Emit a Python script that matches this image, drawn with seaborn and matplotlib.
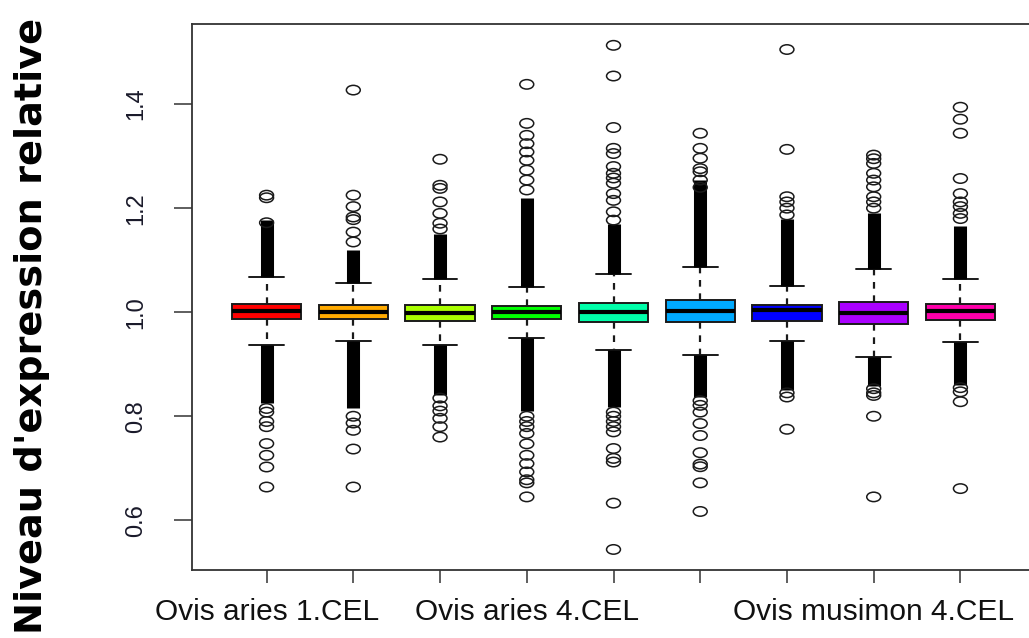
import numpy as np
import pandas as pd
import matplotlib
matplotlib.use("Agg")
import matplotlib.pyplot as plt
import seaborn as sns
from matplotlib.path import Path
from matplotlib.transforms import Affine2D

# ---------------- data ----------------
tick_labels = ["Ovis aries 1.CEL", "", "", "Ovis aries 4.CEL", "", "", "",
               "Ovis musimon 4.CEL", ""]
box_colors = ["#FF0000", "#FFAA00", "#AAFF00", "#00FF00", "#00FFAA",
              "#00AAFF", "#0000FF", "#AA00FF", "#FF00AA"]

q1 = [0.9865, 0.9865, 0.983, 0.9865, 0.981, 0.981, 0.983, 0.978, 0.986]
median = [1.002, 1.001, 0.9994, 1.0006, 1.001, 1.0025, 1.004, 0.9994, 1.002]
q3 = [1.0167, 1.0148, 1.0148, 1.012, 1.018, 1.023, 1.0135, 1.020, 1.0167]
whisker_low = [0.9365, 0.945, 0.9365, 0.9506, 0.928, 0.917, 0.945, 0.914, 0.943]
whisker_high = [1.067, 1.056, 1.063, 1.048, 1.073, 1.087, 1.051, 1.084, 1.063]

# solid runs of overlapping outlier circles just beyond the whiskers
dense_low = [0.825, 0.815, 0.84, 0.81, 0.818, 0.837, 0.85, 0.858, 0.86]
dense_high = [1.178, 1.12, 1.15, 1.22, 1.17, 1.255, 1.18, 1.19, 1.165]

# isolated outliers
outliers_high = [
    [1.172, 1.22, 1.225],
    [1.135, 1.154, 1.178, 1.183, 1.203, 1.225, 1.427],
    [1.16, 1.171, 1.19, 1.212, 1.238, 1.244, 1.294],
    [1.235, 1.254, 1.273, 1.292, 1.308, 1.324, 1.34, 1.363, 1.438],
    [1.177, 1.193, 1.215, 1.228, 1.248, 1.258, 1.267, 1.28, 1.305, 1.315,
     1.355, 1.454, 1.513],
    [1.24, 1.254, 1.27, 1.276, 1.296, 1.315, 1.344],
    [1.187, 1.2, 1.212, 1.222, 1.313, 1.505],
    [1.2, 1.212, 1.222, 1.241, 1.254, 1.267, 1.286, 1.295, 1.302],
    [1.18, 1.19, 1.203, 1.212, 1.228, 1.257, 1.344, 1.371, 1.394],
]
outliers_low = [
    [0.815, 0.808, 0.79, 0.78, 0.7475, 0.725, 0.7025, 0.664],
    [0.80, 0.787, 0.773, 0.737, 0.664],
    [0.835, 0.82, 0.81, 0.796, 0.78, 0.76],
    [0.80, 0.79, 0.78, 0.767, 0.747, 0.725, 0.709, 0.693, 0.678, 0.672, 0.645],
    [0.808, 0.80, 0.79, 0.78, 0.77, 0.738, 0.719, 0.712, 0.633, 0.544],
    [0.83, 0.821, 0.808, 0.786, 0.763, 0.73, 0.708, 0.703, 0.672, 0.617],
    [0.845, 0.837, 0.775],
    [0.853, 0.845, 0.84, 0.80, 0.645],
    [0.855, 0.847, 0.828, 0.661],
]
y_ticks = [0.6, 0.8, 1.0, 1.2, 1.4]
y_label = "Niveau d'expression relative"

# ---------------- style ----------------
sns.set_style("ticks")
plt.rcParams['font.family'] = ['Liberation Sans', 'DejaVu Sans']

W, H = 1029, 638
fig = plt.figure(figsize=(W / 100, H / 100), dpi=100)
ax = fig.add_axes([192 / W, 68 / H, 843 / W, 546 / H])

positions = np.arange(1, len(q1) + 1)
stats = [dict(med=m, q1=a, q3=b, whislo=lo, whishi=hi, fliers=[])
         for m, a, b, lo, hi in zip(median, q1, q3, whisker_low, whisker_high)]

bp = ax.bxp(stats, positions=positions, widths=0.8, capwidths=0.4,
            patch_artist=True, showfliers=False,
            boxprops=dict(edgecolor="#1a1a1a", linewidth=1.4),
            medianprops=dict(color="black", linewidth=3.0),
            whiskerprops=dict(color="#1a1a1a", linewidth=1.6,
                              linestyle=(0, (3, 3))),
            capprops=dict(color="#1a1a1a", linewidth=1.4))
for patch, c in zip(bp["boxes"], box_colors):
    patch.set_facecolor(c)

# dense outlier columns
ax.vlines(positions, whisker_high, dense_high, color="black", linewidth=9.4,
          zorder=3)
ax.vlines(positions, dense_low, whisker_low, color="black", linewidth=9.4,
          zorder=3)

# isolated outliers as (slightly flattened) open circles
rows = []
for p, hi, lo in zip(positions, outliers_high, outliers_low):
    for v in hi + lo:
        rows.append((p, v))
df = pd.DataFrame(rows, columns=["pos", "value"])
ellipse = Path.unit_circle().transformed(Affine2D().scale(1.0, 0.68))
sns.scatterplot(data=df, x="pos", y="value", marker=ellipse, s=100,
                ax=ax, legend=False, zorder=4)
coll = ax.collections[-1]
coll.set_facecolor("none")
coll.set_edgecolor("#1a1a1a")
coll.set_linewidth(1.1)

ax.set_xlim(0.14, 9.86)
ax.set_ylim(0.5045, 1.554)
ax.set_xlabel("")
ax.set_ylabel("")
ax.set_xticks(positions)
ax.set_xticklabels(tick_labels, fontsize=21.5, color="#111111")
ax.set_yticks(y_ticks)
ax.set_yticklabels([f"{t:.1f}" for t in y_ticks], fontsize=17,
                   color="#1a1a2a", rotation=90, va="center")
ax.tick_params(axis="x", length=9.4, width=1.1, pad=11, color="#333333")
ax.tick_params(axis="y", length=13, width=1.1, pad=19, color="#333333")
for sp in ax.spines.values():
    sp.set_visible(True)
    sp.set_color("#333333")
    sp.set_linewidth(1.3)

fig.text(32 / W, 1 - 326 / H, y_label, rotation=90, fontsize=27.5,
         fontweight="bold", family="DejaVu Sans", color="black",
         ha="center", va="center")

fig.savefig("out.png", dpi=100, facecolor="white")
